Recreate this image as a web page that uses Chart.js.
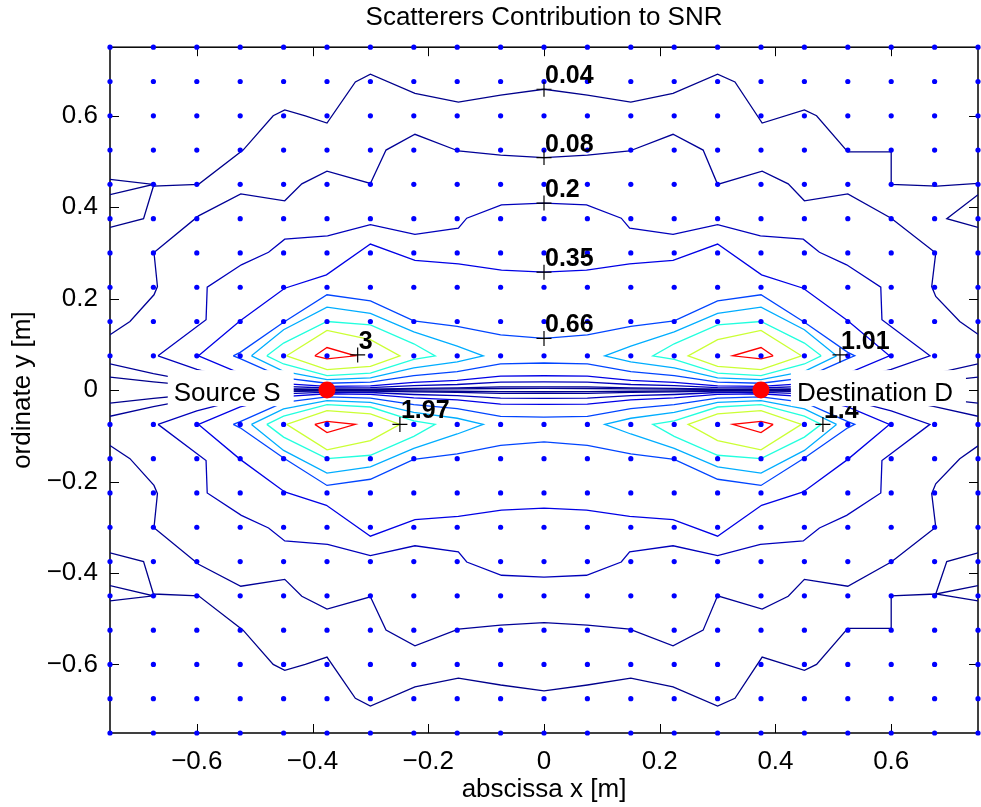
<!DOCTYPE html>
<html>
<head>
<meta charset="utf-8">
<title>Scatterers Contribution to SNR</title>
<script src="https://cdn.jsdelivr.net/npm/chart.js@4.4.1/dist/chart.umd.min.js"></script>
<style>
  html, body { margin: 0; padding: 0; background: #fff; }
  #wrap { width: 981px; height: 807px; }
</style>
</head>
<body>
<div id="wrap"><canvas id="snrChart" width="981" height="807"></canvas></div>
<script>
/* ===== Streuer-Beitrag zum SNR: Konturplot ===== */

// Abtastgitter der Streuer (Zeile y = 0 ist nicht belegt)
const GRID_X = [-0.75, -0.675, -0.6, -0.525, -0.45, -0.375, -0.3, -0.225, -0.15, -0.075, 0,
                0.075, 0.15, 0.225, 0.3, 0.375, 0.45, 0.525, 0.6, 0.675, 0.75];
const GRID_Y = [0.75, 0.675, 0.6, 0.525, 0.45, 0.375, 0.3, 0.225, 0.15, 0.075,
                -0.075, -0.15, -0.225, -0.3, -0.375, -0.45, -0.525, -0.6, -0.675, -0.75];

const TICKS = [-0.6, -0.4, -0.2, 0, 0.2, 0.4, 0.6];

// Konturniveaus und Farben (jet)
const LEVELS = [0.04, 0.08, 0.2, 0.35, 0.66, 1.01, 1.4, 1.97, 3];
const LEVEL_COLORS = ['#00008c', '#000097', '#0000bb', '#0000e6', '#0045ff',
                      '#00adff', '#22ffde', '#cbff34', '#ff0000'];

// Sender / Empfänger
const NODE_X = [-0.375, 0.375];
const NODE_Y = [0, 0];
const NODE_NAMES = ['Source S', 'Destination D'];
const NODE_TEXT_X = [-0.455, 0.437];
const NODE_ALIGN = ['right', 'left'];

// Konturbeschriftungen (Marker-Position + Text)
const CLABEL_TEXT = ['0.04', '0.08', '0.2', '0.35', '0.66', '3', '1.01', '1.97', '1.4'];
const CLABEL_X = [0, 0, 0, 0, 0, -0.322, 0.5115, -0.249, 0.482];
const CLABEL_Y = [0.658, 0.5085, 0.409, 0.258, 0.113, 0.077, 0.077, -0.075, -0.075];

/* ---------- Konturlinien, obere Hälfte ---------- */
// 0.04
const L004_TOP = [[-0.75,0.356],[-0.692,0.375],[-0.675,0.446],[-0.597,0.45],[-0.52,0.525],[-0.468,0.6],[-0.448,0.613],[-0.4125,0.6],[-0.375,0.584],[-0.326,0.674],[-0.3,0.691],[-0.223,0.649],[-0.148,0.63],[-0.075,0.645],[0,0.658],[0.075,0.645],[0.15,0.63],[0.223,0.649],[0.3,0.691],[0.33,0.674],[0.377,0.584],[0.45,0.613],[0.471,0.6],[0.525,0.521],[0.6,0.521],[0.6,0.45],[0.679,0.446],[0.75,0.452]];
const L004_TOP_WL = [[-0.75,0.461],[-0.675,0.45],[-0.75,0.4275]];
const L004_TOP_WR = [[0.75,0.4275],[0.696,0.375],[0.75,0.356]];
const L004_AXIS_TOP = [[-0.75,0.0286],[-0.675,0.018],[-0.6,0.0091],[-0.525,0.0042],[-0.45,0.0017],[-0.375,0.0009],[-0.3,0.0011],[-0.225,0.002],[-0.15,0.0025],[-0.075,0.0035],[0,0.0036],[0.075,0.0035],[0.15,0.0025],[0.225,0.002],[0.3,0.0011],[0.375,0.0009],[0.45,0.0017],[0.525,0.0042],[0.6,0.0091],[0.675,0.018],[0.75,0.0286]];
// 0.08
const L008_TOP = [[-0.75,0.121],[-0.7155,0.15],[-0.674,0.2085],[-0.668,0.2265],[-0.674,0.301],[-0.597,0.381],[-0.524,0.429],[-0.448,0.414],[-0.4185,0.451],[-0.375,0.479],[-0.3,0.452],[-0.273,0.525],[-0.223,0.5595],[-0.148,0.523],[-0.075,0.514],[0,0.5085],[0.075,0.514],[0.148,0.523],[0.223,0.5595],[0.275,0.525],[0.3,0.45],[0.377,0.479],[0.422,0.451],[0.45,0.414],[0.525,0.429],[0.6,0.376],[0.677,0.3],[0.67,0.2265],[0.677,0.205],[0.7185,0.15],[0.75,0.122]];
const L008_AXIS_TOP = [[-0.75,0.0572],[-0.675,0.0359],[-0.6,0.0182],[-0.525,0.0083],[-0.45,0.0032],[-0.375,0.0018],[-0.3,0.0021],[-0.225,0.0038],[-0.15,0.0049],[-0.075,0.007],[0,0.0072],[0.075,0.007],[0.15,0.0049],[0.225,0.0038],[0.3,0.0021],[0.375,0.0018],[0.45,0.0032],[0.525,0.0083],[0.6,0.0182],[0.675,0.0359],[0.75,0.0572]];
// 0.2
const L020_TOP = [[-0.667,0.075],[-0.584,0.154],[-0.582,0.225],[-0.523,0.274],[-0.476,0.3015],[-0.448,0.33],[-0.374,0.3375],[-0.3,0.362],[-0.223,0.3405],[-0.148,0.354],[-0.1335,0.376],[-0.0735,0.405],[0,0.409],[0.0735,0.405],[0.1335,0.376],[0.148,0.354],[0.223,0.3405],[0.3,0.362],[0.374,0.3375],[0.448,0.33],[0.476,0.3015],[0.523,0.274],[0.582,0.225],[0.584,0.154],[0.667,0.075],[0.6,0.0455],[0.525,0.0209],[0.45,0.0082],[0.375,0.0046],[0.3,0.0053],[0.225,0.0096],[0.15,0.0122],[0.075,0.0175],[0,0.018],[-0.075,0.0175],[-0.15,0.0122],[-0.225,0.0096],[-0.3,0.0053],[-0.375,0.0046],[-0.45,0.0082],[-0.525,0.0209],[-0.6,0.0455],[-0.667,0.075]];
// 0.35
const L035_TOP = [[-0.597,0.075],[-0.525,0.1515],[-0.448,0.2228],[-0.376,0.252],[-0.3,0.3195],[-0.223,0.2835],[-0.148,0.276],[-0.0735,0.2625],[0,0.258],[0.0735,0.2625],[0.148,0.276],[0.223,0.2835],[0.3,0.3195],[0.376,0.252],[0.448,0.2228],[0.525,0.1515],[0.597,0.075],[0.525,0.0365],[0.45,0.0143],[0.375,0.008],[0.3,0.0092],[0.225,0.0168],[0.15,0.0214],[0.075,0.0305],[0,0.0314],[-0.075,0.0305],[-0.15,0.0214],[-0.225,0.0168],[-0.3,0.0092],[-0.375,0.008],[-0.45,0.0143],[-0.525,0.0365],[-0.597,0.075]];
// 0.66
const L066_TOP = [[-0.537,0.075],[-0.525,0.0825],[-0.45,0.1485],[-0.375,0.2085],[-0.3,0.195],[-0.225,0.1515],[-0.15,0.1395],[-0.075,0.1208],[0,0.1133],[0.075,0.1208],[0.15,0.1395],[0.225,0.1515],[0.3,0.195],[0.375,0.2085],[0.45,0.1485],[0.525,0.0825],[0.537,0.075],[0.525,0.0688],[0.45,0.0269],[0.375,0.015],[0.3,0.0174],[0.225,0.0317],[0.15,0.0403],[0.075,0.0575],[0,0.0593],[-0.075,0.0575],[-0.15,0.0403],[-0.225,0.0317],[-0.3,0.0174],[-0.375,0.015],[-0.45,0.0269],[-0.525,0.0688],[-0.537,0.075]];
// 1.01
const L101_TOP_L = [[-0.5055,0.075],[-0.45,0.132],[-0.375,0.1815],[-0.3,0.168],[-0.225,0.1275],[-0.15,0.096],[-0.105,0.075],[-0.15,0.0616],[-0.225,0.0485],[-0.3,0.0267],[-0.375,0.023],[-0.45,0.0412],[-0.5055,0.075]];
const L101_TOP_R = [[0.5055,0.075],[0.45,0.132],[0.375,0.1815],[0.3,0.168],[0.225,0.1275],[0.15,0.096],[0.105,0.075],[0.15,0.0616],[0.225,0.0485],[0.3,0.0267],[0.375,0.023],[0.45,0.0412],[0.5055,0.075]];
// 1.4
const L140_TOP_L = [[-0.479,0.075],[-0.45,0.1028],[-0.375,0.15],[-0.3,0.1425],[-0.225,0.1013],[-0.188,0.075],[-0.225,0.0673],[-0.3,0.037],[-0.375,0.0318],[-0.45,0.0571],[-0.479,0.075]];
const L140_TOP_R = [[0.479,0.075],[0.45,0.1028],[0.375,0.15],[0.3,0.1425],[0.225,0.1013],[0.188,0.075],[0.225,0.0673],[0.3,0.037],[0.375,0.0318],[0.45,0.0571],[0.479,0.075]];
// 1.97
const L197_TOP_L = [[-0.4448,0.075],[-0.375,0.1305],[-0.3,0.1103],[-0.249,0.075],[-0.3,0.0521],[-0.375,0.0448],[-0.4448,0.075]];
const L197_TOP_R = [[0.4448,0.075],[0.375,0.1305],[0.3,0.1103],[0.249,0.075],[0.3,0.0521],[0.375,0.0448],[0.4448,0.075]];
// 3
const L300_TOP_L = [[-0.396,0.075],[-0.375,0.093],[-0.326,0.075],[-0.375,0.0683],[-0.396,0.075]];
const L300_TOP_R = [[0.396,0.075],[0.375,0.093],[0.326,0.075],[0.375,0.0683],[0.396,0.075]];

/* ---------- Konturlinien, untere Hälfte ---------- */
// rechts unten läuft 0.04 durch den Sattelpunkt bei (0.675, -0.45)
const L004_BOT = [[-0.75,-0.356],[-0.692,-0.375],[-0.675,-0.446],[-0.597,-0.45],[-0.52,-0.525],[-0.468,-0.6],[-0.448,-0.613],[-0.4125,-0.6],[-0.375,-0.584],[-0.326,-0.674],[-0.3,-0.691],[-0.223,-0.649],[-0.148,-0.63],[-0.075,-0.645],[0,-0.658],[0.075,-0.645],[0.15,-0.63],[0.223,-0.649],[0.3,-0.691],[0.33,-0.674],[0.377,-0.584],[0.45,-0.613],[0.471,-0.6],[0.525,-0.521],[0.6,-0.521],[0.6,-0.45],[0.677,-0.446],[0.696,-0.375],[0.75,-0.356]];
const L004_BOT_WL = [[-0.75,-0.461],[-0.675,-0.45],[-0.75,-0.4275]];
const L004_BOT_WR = [[0.75,-0.4275],[0.677,-0.446],[0.75,-0.461]];
const L004_AXIS_BOT = [[-0.75,-0.0286],[-0.675,-0.018],[-0.6,-0.0091],[-0.525,-0.0042],[-0.45,-0.0017],[-0.375,-0.0009],[-0.3,-0.0011],[-0.225,-0.002],[-0.15,-0.0025],[-0.075,-0.0035],[0,-0.0036],[0.075,-0.0035],[0.15,-0.0025],[0.225,-0.002],[0.3,-0.0011],[0.375,-0.0009],[0.45,-0.0017],[0.525,-0.0042],[0.6,-0.0091],[0.675,-0.018],[0.75,-0.0286]];
const L008_BOT = [[-0.75,-0.121],[-0.7155,-0.15],[-0.674,-0.2085],[-0.668,-0.2265],[-0.674,-0.301],[-0.597,-0.381],[-0.524,-0.429],[-0.448,-0.414],[-0.4185,-0.451],[-0.375,-0.479],[-0.3,-0.452],[-0.273,-0.525],[-0.223,-0.5595],[-0.148,-0.523],[-0.075,-0.514],[0,-0.5085],[0.075,-0.514],[0.148,-0.523],[0.223,-0.5595],[0.275,-0.525],[0.3,-0.45],[0.377,-0.479],[0.422,-0.451],[0.45,-0.414],[0.525,-0.429],[0.6,-0.376],[0.677,-0.3],[0.67,-0.2265],[0.677,-0.205],[0.7185,-0.15],[0.75,-0.122]];
const L008_AXIS_BOT = [[-0.75,-0.0572],[-0.675,-0.0359],[-0.6,-0.0182],[-0.525,-0.0083],[-0.45,-0.0032],[-0.375,-0.0018],[-0.3,-0.0021],[-0.225,-0.0038],[-0.15,-0.0049],[-0.075,-0.007],[0,-0.0072],[0.075,-0.007],[0.15,-0.0049],[0.225,-0.0038],[0.3,-0.0021],[0.375,-0.0018],[0.45,-0.0032],[0.525,-0.0083],[0.6,-0.0182],[0.675,-0.0359],[0.75,-0.0572]];
const L020_BOT = [[-0.667,-0.075],[-0.584,-0.154],[-0.582,-0.225],[-0.523,-0.274],[-0.476,-0.3015],[-0.448,-0.33],[-0.374,-0.3375],[-0.3,-0.362],[-0.223,-0.3405],[-0.148,-0.354],[-0.1335,-0.376],[-0.0735,-0.405],[0,-0.409],[0.0735,-0.405],[0.1335,-0.376],[0.148,-0.354],[0.223,-0.3405],[0.3,-0.362],[0.374,-0.3375],[0.448,-0.33],[0.476,-0.3015],[0.523,-0.274],[0.582,-0.225],[0.584,-0.154],[0.667,-0.075],[0.6,-0.0455],[0.525,-0.0209],[0.45,-0.0082],[0.375,-0.0046],[0.3,-0.0053],[0.225,-0.0096],[0.15,-0.0122],[0.075,-0.0175],[0,-0.018],[-0.075,-0.0175],[-0.15,-0.0122],[-0.225,-0.0096],[-0.3,-0.0053],[-0.375,-0.0046],[-0.45,-0.0082],[-0.525,-0.0209],[-0.6,-0.0455],[-0.667,-0.075]];
const L035_BOT = [[-0.597,-0.075],[-0.525,-0.1515],[-0.448,-0.2228],[-0.376,-0.252],[-0.3,-0.3195],[-0.223,-0.2835],[-0.148,-0.276],[-0.0735,-0.2625],[0,-0.258],[0.0735,-0.2625],[0.148,-0.276],[0.223,-0.2835],[0.3,-0.3195],[0.376,-0.252],[0.448,-0.2228],[0.525,-0.1515],[0.597,-0.075],[0.525,-0.0365],[0.45,-0.0143],[0.375,-0.008],[0.3,-0.0092],[0.225,-0.0168],[0.15,-0.0214],[0.075,-0.0305],[0,-0.0314],[-0.075,-0.0305],[-0.15,-0.0214],[-0.225,-0.0168],[-0.3,-0.0092],[-0.375,-0.008],[-0.45,-0.0143],[-0.525,-0.0365],[-0.597,-0.075]];
const L066_BOT = [[-0.537,-0.075],[-0.525,-0.0825],[-0.45,-0.1485],[-0.375,-0.2085],[-0.3,-0.195],[-0.225,-0.1515],[-0.15,-0.1395],[-0.075,-0.1208],[0,-0.1133],[0.075,-0.1208],[0.15,-0.1395],[0.225,-0.1515],[0.3,-0.195],[0.375,-0.2085],[0.45,-0.1485],[0.525,-0.0825],[0.537,-0.075],[0.525,-0.0688],[0.45,-0.0269],[0.375,-0.015],[0.3,-0.0174],[0.225,-0.0317],[0.15,-0.0403],[0.075,-0.0575],[0,-0.0593],[-0.075,-0.0575],[-0.15,-0.0403],[-0.225,-0.0317],[-0.3,-0.0174],[-0.375,-0.015],[-0.45,-0.0269],[-0.525,-0.0688],[-0.537,-0.075]];
const L101_BOT_L = [[-0.5055,-0.075],[-0.45,-0.132],[-0.375,-0.1815],[-0.3,-0.168],[-0.225,-0.1275],[-0.15,-0.096],[-0.105,-0.075],[-0.15,-0.0616],[-0.225,-0.0485],[-0.3,-0.0267],[-0.375,-0.023],[-0.45,-0.0412],[-0.5055,-0.075]];
const L101_BOT_R = [[0.5055,-0.075],[0.45,-0.132],[0.375,-0.1815],[0.3,-0.168],[0.225,-0.1275],[0.15,-0.096],[0.105,-0.075],[0.15,-0.0616],[0.225,-0.0485],[0.3,-0.0267],[0.375,-0.023],[0.45,-0.0412],[0.5055,-0.075]];
const L140_BOT_L = [[-0.479,-0.075],[-0.45,-0.1028],[-0.375,-0.15],[-0.3,-0.1425],[-0.225,-0.1013],[-0.188,-0.075],[-0.225,-0.0673],[-0.3,-0.037],[-0.375,-0.0318],[-0.45,-0.0571],[-0.479,-0.075]];
const L140_BOT_R = [[0.479,-0.075],[0.45,-0.1028],[0.375,-0.15],[0.3,-0.1425],[0.225,-0.1013],[0.188,-0.075],[0.225,-0.0673],[0.3,-0.037],[0.375,-0.0318],[0.45,-0.0571],[0.479,-0.075]];
const L197_BOT_L = [[-0.4448,-0.075],[-0.375,-0.1305],[-0.3,-0.1103],[-0.249,-0.075],[-0.3,-0.0521],[-0.375,-0.0448],[-0.4448,-0.075]];
const L197_BOT_R = [[0.4448,-0.075],[0.375,-0.1305],[0.3,-0.1103],[0.249,-0.075],[0.3,-0.0521],[0.375,-0.0448],[0.4448,-0.075]];
const L300_BOT_L = [[-0.396,-0.075],[-0.375,-0.093],[-0.326,-0.075],[-0.375,-0.0683],[-0.396,-0.075]];
const L300_BOT_R = [[0.396,-0.075],[0.375,-0.093],[0.326,-0.075],[0.375,-0.0683],[0.396,-0.075]];

// Zuordnung Linienzug -> Niveau-Index
const CONTOURS = [
  [L004_TOP, 0], [L004_TOP_WL, 0], [L004_TOP_WR, 0], [L004_AXIS_TOP, 0],
  [L004_BOT, 0], [L004_BOT_WL, 0], [L004_BOT_WR, 0], [L004_AXIS_BOT, 0],
  [L008_TOP, 1], [L008_AXIS_TOP, 1], [L008_BOT, 1], [L008_AXIS_BOT, 1],
  [L020_TOP, 2], [L020_BOT, 2],
  [L035_TOP, 3], [L035_BOT, 3],
  [L066_TOP, 4], [L066_BOT, 4],
  [L101_TOP_L, 5], [L101_TOP_R, 5], [L101_BOT_L, 5], [L101_BOT_R, 5],
  [L140_TOP_L, 6], [L140_TOP_R, 6], [L140_BOT_L, 6], [L140_BOT_R, 6],
  [L197_TOP_L, 7], [L197_TOP_R, 7], [L197_BOT_L, 7], [L197_BOT_R, 7],
  [L300_TOP_L, 8], [L300_TOP_R, 8], [L300_BOT_L, 8], [L300_BOT_R, 8],
];

const FONT = '"Liberation Sans", Arial, Helvetica, sans-serif';
const TICK_LEN = 9;

function fmtTick(v) {
  if (v === 0) return '0';
  return (v < 0 ? '\u2212' : '') + Math.abs(v).toFixed(1);
}

/* ---------- Rahmen + nach innen zeigende Ticks auf allen vier Seiten ---------- */
const framePlugin = {
  id: 'frame',
  beforeDatasetsDraw(chart) {
    const { ctx, chartArea: a, scales: { x, y } } = chart;
    ctx.save();
    ctx.strokeStyle = '#000';
    ctx.lineWidth = 1.5;
    ctx.strokeRect(a.left, a.top, a.right - a.left, a.bottom - a.top);
    ctx.lineWidth = 1;
    ctx.beginPath();
    x.ticks.forEach(t => {
      const px = Math.round(x.getPixelForValue(t.value)) + 0.5;
      ctx.moveTo(px, a.bottom); ctx.lineTo(px, a.bottom - TICK_LEN);
      ctx.moveTo(px, a.top); ctx.lineTo(px, a.top + TICK_LEN);
    });
    y.ticks.forEach(t => {
      const py = Math.round(y.getPixelForValue(t.value)) + 0.5;
      ctx.moveTo(a.left, py); ctx.lineTo(a.left + TICK_LEN, py);
      ctx.moveTo(a.right, py); ctx.lineTo(a.right - TICK_LEN, py);
    });
    ctx.stroke();
    ctx.restore();
  },
};

/* ---------- Konturbeschriftungen und Beschriftung von S / D ---------- */
const textPlugin = {
  id: 'texts',
  afterDatasetsDraw(chart) {
    const { ctx, scales: { x, y } } = chart;
    ctx.save();
    ctx.fillStyle = '#000';
    ctx.textBaseline = 'alphabetic';
    ctx.textAlign = 'left';
    ctx.font = 'bold 25px ' + FONT;
    CLABEL_TEXT.forEach((t, i) => {
      ctx.fillText(t, x.getPixelForValue(CLABEL_X[i]) + 1, y.getPixelForValue(CLABEL_Y[i]) - 6);
    });

    // weiß hinterlegte Textfelder
    ctx.font = '26px ' + FONT;
    NODE_NAMES.forEach((name, i) => {
      const w = ctx.measureText(name).width;
      const ax = x.getPixelForValue(NODE_TEXT_X[i]);
      const left = NODE_ALIGN[i] === 'right' ? ax - w : ax;
      const base = y.getPixelForValue(NODE_Y[i]) + 11;
      ctx.fillStyle = '#fff';
      ctx.fillRect(left - 6, base - 31, w + 19, 36);
      ctx.fillStyle = '#000';
      ctx.fillText(name, left, base);
    });
    ctx.restore();
  },
};

/* ---------- Datensätze ---------- */
const datasets = CONTOURS.map(([pts, lv]) => ({
  data: pts,
  showLine: true,
  borderColor: LEVEL_COLORS[lv],
  borderWidth: 1.3,
  pointRadius: 0,
  fill: false,
  tension: 0,
  order: 4,
}));

datasets.push({
  data: GRID_Y.flatMap(gy => GRID_X.map(gx => [gx, gy])),
  showLine: false,
  pointRadius: 2.6,
  pointBackgroundColor: '#0000ff',
  pointBorderWidth: 0,
  clip: false,
  order: 3,
});

datasets.push({
  data: NODE_X.map((nx, i) => [nx, NODE_Y[i]]),
  showLine: false,
  pointRadius: 8.5,
  pointBackgroundColor: '#ff0000',
  pointBorderWidth: 0,
  order: 2,
});

datasets.push({
  data: CLABEL_X.map((cx, i) => [cx, CLABEL_Y[i]]),
  showLine: false,
  pointStyle: 'cross',
  pointRadius: 7.5,
  pointBorderColor: '#000',
  pointBorderWidth: 1.2,
  order: 1,
});

const axisFont = { family: FONT, size: 26, weight: 'normal' };

new Chart(document.getElementById('snrChart'), {
  type: 'scatter',
  data: { datasets },
  options: {
    responsive: false,
    animation: false,
    devicePixelRatio: 1,
    events: [],
    layout: { autoPadding: false, padding: { top: 0, right: 3, bottom: 0, left: 0 } },
    plugins: {
      legend: { display: false },
      tooltip: { enabled: false },
      title: {
        display: true,
        fullSize: false,          // über der Zeichenfläche zentriert
        text: 'Scatterers Contribution to SNR',
        color: '#000',
        font: axisFont,
        padding: { top: 2, bottom: 14 },
      },
    },
    scales: {
      x: {
        type: 'linear', min: -0.75, max: 0.75,
        grid: { display: false, drawTicks: false },
        border: { display: false },
        afterBuildTicks: s => { s.ticks = TICKS.map(v => ({ value: v })); },
        afterFit: s => { s.height = 74; s.paddingLeft = 0; s.paddingRight = 0; },
        ticks: { color: '#000', font: axisFont, padding: 13, maxRotation: 0, autoSkip: false, callback: fmtTick },
        title: { display: true, text: 'abscissa x [m]', color: '#000', font: axisFont, padding: { top: 0, bottom: 2 } },
      },
      y: {
        type: 'linear', min: -0.75, max: 0.75,
        grid: { display: false, drawTicks: false },
        border: { display: false },
        afterBuildTicks: s => { s.ticks = TICKS.map(v => ({ value: v })); },
        afterFit: s => { s.width = 110; s.paddingTop = 0; s.paddingBottom = 0; },
        ticks: { color: '#000', font: axisFont, padding: 12, autoSkip: false, callback: fmtTick },
        title: { display: true, text: 'ordinate y [m]', color: '#000', font: axisFont, padding: { top: 7, bottom: 0 } },
      },
    },
  },
  plugins: [framePlugin, textPlugin],
});
</script>
</body>
</html>
